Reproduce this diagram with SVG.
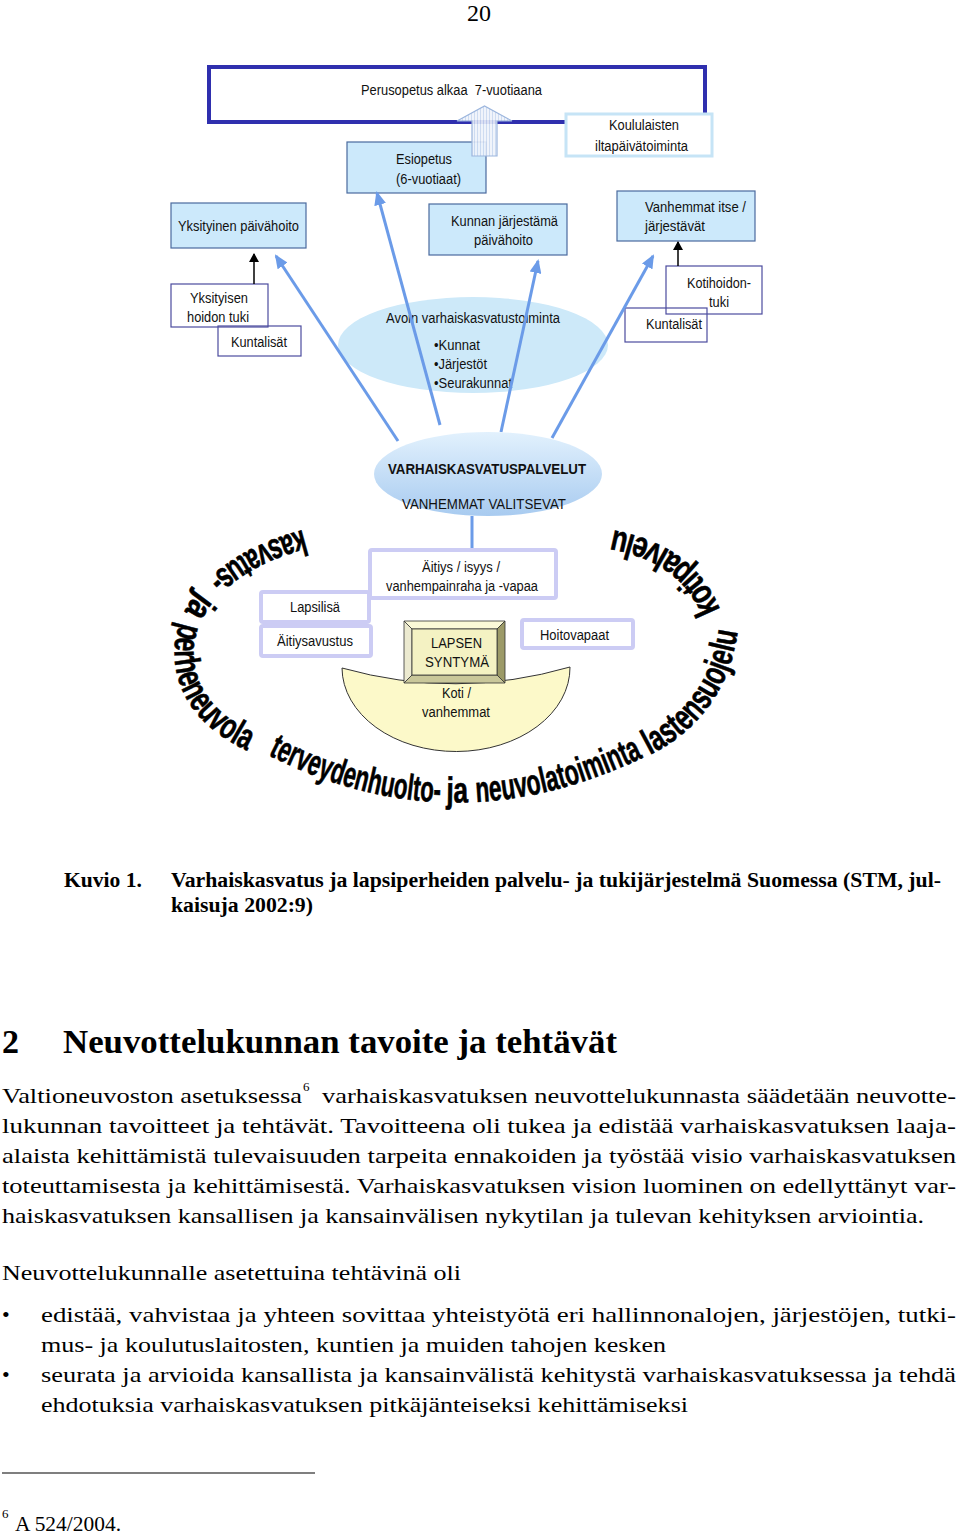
<svg xmlns="http://www.w3.org/2000/svg" width="960" height="1532" viewBox="0 0 960 1532">
<style>
.lbl{font-family:"Liberation Sans Narrow","Liberation Sans",Arial,sans-serif;font-size:14px;fill:#111}
.bold{font-weight:bold}
.bluebox{fill:#cce9fb;stroke:#4a6a9e;stroke-width:1.2}
.wbox{fill:none;stroke:#4b4b9e;stroke-width:1.2}
.lav{fill:#fff;stroke:#ccccf4;stroke-width:4}
.conn{stroke:#6b9be8;stroke-width:3;fill:none}
.blk{stroke:#000;stroke-width:1.5;fill:none}
.ring{font-family:"Liberation Sans",Arial,sans-serif;font-weight:bold;font-size:36px;fill:#000;stroke:#000;stroke-width:0.6}
.serif{font-family:"Liberation Serif","Times New Roman",serif;fill:#000}
.body{font-size:22px}
</style>
<defs>
<marker id="ab" markerUnits="userSpaceOnUse" markerWidth="14" markerHeight="12" refX="12" refY="6" orient="auto">
<path d="M0,0 L14,6 L0,12 z" fill="#6b9be8"/>
</marker>
<marker id="ak" markerUnits="userSpaceOnUse" markerWidth="9" markerHeight="10" refX="8" refY="5" orient="auto">
<path d="M0,0 L9,5 L0,10 z" fill="#000"/>
</marker>
<linearGradient id="gEll" x1="0" y1="0" x2="0" y2="1">
<stop offset="0" stop-color="#e2f1fd"/>
<stop offset="1" stop-color="#a8cbf0"/>
</linearGradient>
<pattern id="stripes" width="3" height="4" patternUnits="userSpaceOnUse">
<rect width="3" height="4" fill="#eef3fb"/>
<rect width="1" height="4" fill="#c9d8f0"/>
</pattern>
<path id="pA" d="M 303 530 C 243 545, 183 582, 175 643 C 170 695, 205 735, 258 755"/>
<path id="pB" d="M 268 755 Q 455 850 648 755"/>
<path id="pC" d="M 650 755 Q 728 715 738 628"/>
<path id="pD" d="M 720 610 Q 695 545 612 530"/>
</defs>
<rect width="960" height="1532" fill="#fff"/>

<text class="serif" x="479" y="21" font-size="24" text-anchor="middle">20</text>

<g id="perusopetus">
<rect x="209" y="67" width="496" height="55" fill="#fff" stroke="#2f2fae" stroke-width="4"/>
<text class="lbl" x="361" y="95" textLength="181" lengthAdjust="spacingAndGlyphs">Perusopetus alkaa&#160; 7-vuotiaana</text>
</g>
<g id="koululaisten">
<rect x="566" y="114" width="146" height="42" fill="#fff" stroke="#c6e4f6" stroke-width="3"/>
<text class="lbl" x="609" y="130" textLength="70" lengthAdjust="spacingAndGlyphs">Koululaisten</text>
<text class="lbl" x="595" y="151" textLength="93" lengthAdjust="spacingAndGlyphs">iltapäivätoiminta</text>
</g>
<g id="esiopetus">
<rect class="bluebox" x="347" y="142" width="139" height="51"/>
<text class="lbl" x="396" y="164" textLength="56" lengthAdjust="spacingAndGlyphs">Esiopetus</text>
<text class="lbl" x="396" y="184" textLength="65" lengthAdjust="spacingAndGlyphs">(6-vuotiaat)</text>
</g>
<g id="uparrow">
<polygon points="472,156 472,121 457,121 484.5,106 512,121 497,121 497,156" fill="url(#stripes)" stroke="#9bb5dd" stroke-width="1.2" fill-opacity="0.9"/>
</g>
<g id="yksityinen">
<rect class="bluebox" x="171" y="203" width="135" height="45"/>
<text class="lbl" x="178" y="231" textLength="121" lengthAdjust="spacingAndGlyphs">Yksityinen päivähoito</text>
</g>
<g id="kunnan">
<rect class="bluebox" x="429" y="204" width="138" height="51"/>
<text class="lbl" x="451" y="226" textLength="107" lengthAdjust="spacingAndGlyphs">Kunnan järjestämä</text>
<text class="lbl" x="474" y="245" textLength="59" lengthAdjust="spacingAndGlyphs">päivähoito</text>
</g>
<g id="vanhemmat-itse">
<rect class="bluebox" x="617" y="191" width="138" height="50"/>
<text class="lbl" x="645" y="212" textLength="101" lengthAdjust="spacingAndGlyphs">Vanhemmat itse /</text>
<text class="lbl" x="645" y="231" textLength="60" lengthAdjust="spacingAndGlyphs">järjestävät</text>
</g>
<g id="yksityisen-tuki">
<rect class="wbox" x="171" y="284" width="97" height="43"/>
<text class="lbl" x="190" y="303" textLength="58" lengthAdjust="spacingAndGlyphs">Yksityisen</text>
<text class="lbl" x="187" y="322" textLength="62" lengthAdjust="spacingAndGlyphs">hoidon tuki</text>
</g>
<g id="kuntalisat-l">
<rect class="wbox" x="218" y="326" width="83" height="30"/>
<text class="lbl" x="231" y="347" textLength="56" lengthAdjust="spacingAndGlyphs">Kuntalisät</text>
</g>
<g id="kotihoidon">
<rect class="wbox" x="666" y="266" width="96" height="48"/>
<text class="lbl" x="687" y="288" textLength="64" lengthAdjust="spacingAndGlyphs">Kotihoidon-</text>
<text class="lbl" x="709" y="307" textLength="20" lengthAdjust="spacingAndGlyphs">tuki</text>
</g>
<g id="kuntalisat-r">
<rect class="wbox" x="625" y="308" width="82" height="34"/>
<text class="lbl" x="646" y="329" textLength="56" lengthAdjust="spacingAndGlyphs">Kuntalisät</text>
</g>
<g id="avoin">
<ellipse cx="473" cy="345" rx="135" ry="48" fill="#cde9f9"/>
<text class="lbl" x="386" y="323" textLength="174" lengthAdjust="spacingAndGlyphs">Avoin varhaiskasvatustoiminta</text>
<text class="lbl" x="434" y="350" textLength="46" lengthAdjust="spacingAndGlyphs">•Kunnat</text>
<text class="lbl" x="434" y="369" textLength="53" lengthAdjust="spacingAndGlyphs">•Järjestöt</text>
<text class="lbl" x="434" y="388" textLength="78" lengthAdjust="spacingAndGlyphs">•Seurakunnat</text>
</g>

<g id="connectors">
<line class="conn" x1="398" y1="441" x2="276" y2="256" marker-end="url(#ab)"/>
<line class="conn" x1="440" y1="425" x2="377" y2="193" marker-end="url(#ab)"/>
<line class="conn" x1="501" y1="432" x2="538" y2="261" marker-end="url(#ab)"/>
<line class="conn" x1="552" y1="438" x2="653" y2="256" marker-end="url(#ab)"/>
<line class="conn" x1="472" y1="516" x2="472" y2="550"/>
<line class="blk" x1="254" y1="284" x2="254" y2="254" marker-end="url(#ak)"/>
<line class="blk" x1="678" y1="266" x2="678" y2="242" marker-end="url(#ak)"/>
</g>

<g id="varhaiskasvatuspalvelut">
<ellipse cx="488" cy="474" rx="114" ry="42" fill="url(#gEll)"/>
<text class="lbl bold" x="388" y="474" textLength="198" lengthAdjust="spacingAndGlyphs">VARHAISKASVATUSPALVELUT</text>
<text class="lbl" x="402" y="509" textLength="164" lengthAdjust="spacingAndGlyphs">VANHEMMAT VALITSEVAT</text>
</g>
<g id="aitiys">
<rect class="lav" x="370" y="550" width="186" height="48" rx="2"/>
<text class="lbl" x="422" y="572" textLength="78" lengthAdjust="spacingAndGlyphs">Äitiys / isyys /</text>
<text class="lbl" x="386" y="591" textLength="152" lengthAdjust="spacingAndGlyphs">vanhempainraha ja -vapaa</text>
</g>
<g id="lapsilisa">
<rect class="lav" x="261" y="592" width="108" height="30" rx="2"/>
<text class="lbl" x="290" y="612" textLength="50" lengthAdjust="spacingAndGlyphs">Lapsilisä</text>
</g>
<g id="aitiysavustus">
<rect class="lav" x="261" y="626" width="110" height="30" rx="2"/>
<text class="lbl" x="277" y="646" textLength="76" lengthAdjust="spacingAndGlyphs">Äitiysavustus</text>
</g>
<g id="hoitovapaat">
<rect class="lav" x="522" y="620" width="111" height="28" rx="2"/>
<text class="lbl" x="540" y="640" textLength="69" lengthAdjust="spacingAndGlyphs">Hoitovapaat</text>
</g>
<g id="koti">
<path d="M 342 668 Q 456 700 570 667 A 114 84 0 0 1 342 668 Z" fill="#fcf9c9" stroke="#333" stroke-width="1"/>
<text class="lbl" x="442" y="698" textLength="29" lengthAdjust="spacingAndGlyphs">Koti /</text>
<text class="lbl" x="422" y="717" textLength="68" lengthAdjust="spacingAndGlyphs">vanhemmat</text>
</g>
<g id="lapsen-syntyma">
<polygon points="404,621 505,621 497,629 412,629" fill="#fbf9d8" stroke="#333" stroke-width="0.8"/>
<polygon points="404,621 412,629 412,675 404,683" fill="#ecead0" stroke="#333" stroke-width="0.8"/>
<polygon points="505,621 505,683 497,675 497,629" fill="#9c9a68" stroke="#333" stroke-width="0.8"/>
<polygon points="404,683 412,675 497,675 505,683" fill="#c9c79a" stroke="#333" stroke-width="0.8"/>
<rect x="412" y="629" width="85" height="46" fill="#f4f2c3" stroke="#333" stroke-width="0.8"/>
<text class="lbl" x="431" y="648" textLength="51" lengthAdjust="spacingAndGlyphs">LAPSEN</text>
<text class="lbl" x="425" y="667" textLength="64" lengthAdjust="spacingAndGlyphs">SYNTYMÄ</text>
</g>

<g id="ring-text">
<text class="ring"><textPath href="#pA" startOffset="0" textLength="108" lengthAdjust="spacingAndGlyphs">kasvatus-</textPath></text>
<text class="ring"><textPath href="#pA" startOffset="124" textLength="24" lengthAdjust="spacingAndGlyphs">ja</textPath></text>
<text class="ring"><textPath href="#pA" startOffset="160" textLength="160" lengthAdjust="spacingAndGlyphs">perheneuvola</textPath></text>
<text class="ring"><textPath href="#pB" startOffset="0" textLength="180" lengthAdjust="spacingAndGlyphs">terveydenhuolto-</textPath></text>
<text class="ring"><textPath href="#pB" startOffset="186" textLength="22" lengthAdjust="spacingAndGlyphs">ja</textPath></text>
<text class="ring"><textPath href="#pB" startOffset="216" textLength="174" lengthAdjust="spacingAndGlyphs">neuvolatoiminta</textPath></text>
<text class="ring"><textPath href="#pC" textLength="158" lengthAdjust="spacingAndGlyphs">lastensuojelu</textPath></text>
<text class="ring"><textPath href="#pD" textLength="140" lengthAdjust="spacingAndGlyphs">kotipalvelu</textPath></text>
</g>

<g id="caption" class="serif" font-weight="bold" font-size="20">
<text x="64" y="887" textLength="78" lengthAdjust="spacingAndGlyphs">Kuvio 1.</text>
<text x="171" y="887" textLength="770" lengthAdjust="spacingAndGlyphs">Varhaiskasvatus ja lapsiperheiden palvelu- ja tukijärjestelmä Suomessa (STM, jul-</text>
<text x="171" y="912" textLength="142" lengthAdjust="spacingAndGlyphs">kaisuja 2002:9)</text>
</g>

<g id="body" class="serif">
<text x="2" y="1053" font-size="34" font-weight="bold">2</text>
<text x="63" y="1053" font-size="34" font-weight="bold" textLength="554" lengthAdjust="spacingAndGlyphs">Neuvottelukunnan tavoite ja tehtävät</text>
<text class="body" x="2" y="1103" textLength="300" lengthAdjust="spacingAndGlyphs">Valtioneuvoston asetuksessa</text>
<text x="303" y="1091" font-size="13">6</text>
<text class="body" x="322" y="1103" textLength="634" lengthAdjust="spacingAndGlyphs">varhaiskasvatuksen neuvottelukunnasta säädetään neuvotte-</text>
<text class="body" x="2" y="1133" textLength="954" lengthAdjust="spacingAndGlyphs">lukunnan tavoitteet ja tehtävät. Tavoitteena oli tukea ja edistää varhaiskasvatuksen laaja-</text>
<text class="body" x="2" y="1163" textLength="954" lengthAdjust="spacingAndGlyphs">alaista kehittämistä tulevaisuuden tarpeita ennakoiden ja työstää visio varhaiskasvatuksen</text>
<text class="body" x="2" y="1193" textLength="954" lengthAdjust="spacingAndGlyphs">toteuttamisesta ja kehittämisestä. Varhaiskasvatuksen vision luominen on edellyttänyt var-</text>
<text class="body" x="2" y="1223" textLength="922" lengthAdjust="spacingAndGlyphs">haiskasvatuksen kansallisen ja kansainvälisen nykytilan ja tulevan kehityksen arviointia.</text>
<text class="body" x="2" y="1280" textLength="459" lengthAdjust="spacingAndGlyphs">Neuvottelukunnalle asetettuina tehtävinä oli</text>
<text class="body" x="2" y="1322">•</text>
<text class="body" x="41" y="1322" textLength="915" lengthAdjust="spacingAndGlyphs">edistää, vahvistaa ja yhteen sovittaa yhteistyötä eri hallinnonalojen, järjestöjen, tutki-</text>
<text class="body" x="41" y="1352" textLength="625" lengthAdjust="spacingAndGlyphs">mus- ja koulutuslaitosten, kuntien ja muiden tahojen kesken</text>
<text class="body" x="2" y="1382">•</text>
<text class="body" x="41" y="1382" textLength="915" lengthAdjust="spacingAndGlyphs">seurata ja arvioida kansallista ja kansainvälistä kehitystä varhaiskasvatuksessa ja tehdä</text>
<text class="body" x="41" y="1412" textLength="647" lengthAdjust="spacingAndGlyphs">ehdotuksia varhaiskasvatuksen pitkäjänteiseksi kehittämiseksi</text>
<line x1="2" y1="1473" x2="315" y2="1473" stroke="#000" stroke-width="1.2"/>
<text x="2" y="1518" font-size="13">6</text>
<text x="15" y="1531" font-size="20" textLength="106" lengthAdjust="spacingAndGlyphs">A 524/2004.</text>
</g>
</svg>
